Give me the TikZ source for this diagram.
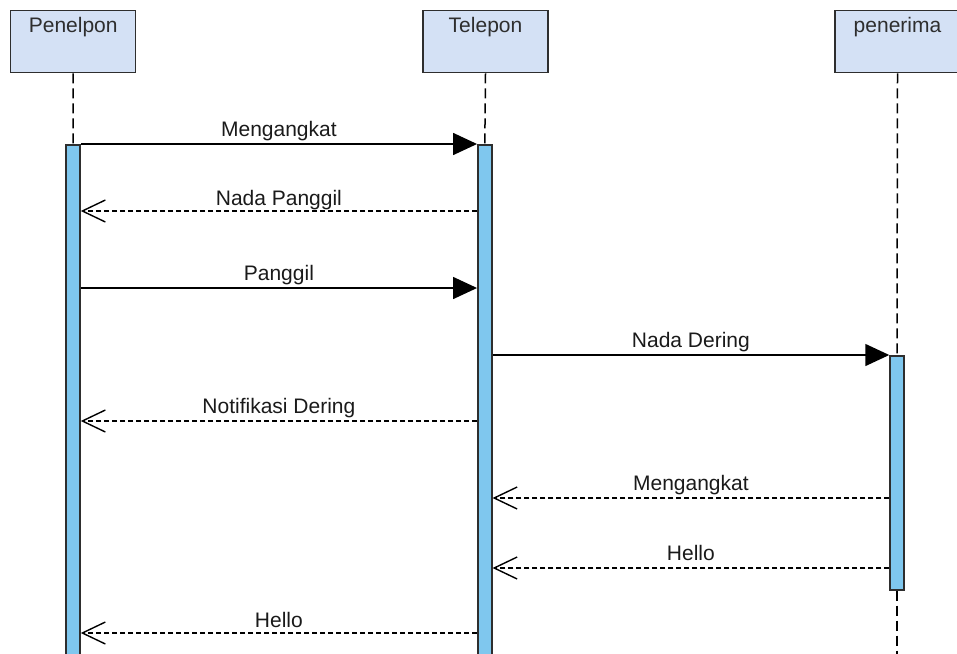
\documentclass[tikz,border=0pt]{standalone}
\usepackage{fontspec}
\setmainfont{Liberation Sans}
\usetikzlibrary{arrows.meta}
\definecolor{hdrfill}{HTML}{D4E1F5}
\definecolor{actfill}{HTML}{7FC7EE}
\definecolor{ink}{HTML}{2E2E2E}
\definecolor{txt}{HTML}{1A1A1A}

\begin{document}
\begin{tikzpicture}[x=1pt,y=-1pt,
  hdr/.style={draw=ink, line width=1.5pt, fill=hdrfill, minimum width=125pt,
    minimum height=62pt, inner sep=0pt},
  hdrtext/.style={anchor=base, inner sep=0pt, text=ink, font=\fontsize{21}{25}\selectfont},
  act/.style={draw=ink, line width=1.5pt, fill=actfill, minimum width=14pt,
    inner sep=0pt, anchor=north},
  life/.style={draw=black, line width=1.5pt, dash pattern=on 10pt off 5pt},
  call/.style={draw=black, line width=1.5pt, -{Triangle[length=24pt,width=22pt]}},
  reply/.style={draw=black, line width=1.4pt, dash pattern=on 5pt off 3pt,
    -{Straight Barb[length=23pt,width=22pt,line width=1.4pt]}},
  msgtext/.style={anchor=base, inner sep=0pt, text=txt, font=\fontsize{21}{25}\selectfont},
]
\useasboundingbox (0,0) rectangle (957,653);
\clip (0,0) rectangle (957,653);

% participants
\node[hdr] (penelpon) at (73.2,41.7) {};
\node[hdrtext] (penelponlbl) at (73.2,32) {Penelpon};
\node[hdr] (telepon) at (485.5,41.7) {};
\node[hdrtext] (teleponlbl) at (485.5,32) {Telepon};
\node[hdr] (penerima) at (897.5,41.7) {};
\node[hdrtext] (penerimalbl) at (897.5,32) {penerima};

% activation bars
\node[act, minimum height=520pt] (penact) at (73,144) {};
\node[act, minimum height=520pt] (telact) at (484.8,144) {};
\node[act, minimum height=234pt] (recact) at (897,355) {};

% lifelines
\draw[life] (penelpon.south) -- (penact.north);
\draw[life] (telepon.south) -- (telact.north);
\draw[life] (penerima.south) -- (recact.north);
\draw[life] (recact.south) -- (897,660);

% messages
\draw[call] (penact.north east) -- (telact.north west)
  node[msgtext, midway, yshift=8pt] (m1) {Mengangkat};
\draw[reply] (telact.west |- 0,211) -- (penact.east |- 0,211)
  node[msgtext, midway, yshift=6pt] (m2) {Nada Panggil};
\draw[call] (penact.east |- 0,288) -- (telact.west |- 0,288)
  node[msgtext, midway, yshift=8pt] (m3) {Panggil};
\draw[call] (telact.east |- recact.north) -- (recact.north west)
  node[msgtext, midway, yshift=8pt] (m4) {Nada Dering};
\draw[reply] (telact.west |- 0,421) -- (penact.east |- 0,421)
  node[msgtext, midway, yshift=8pt] (m5) {Notifikasi Dering};
\draw[reply] (recact.west |- 0,498) -- (telact.east |- 0,498)
  node[msgtext, midway, yshift=8pt] (m6) {Mengangkat};
\draw[reply] (recact.west |- 0,568) -- (telact.east |- 0,568)
  node[msgtext, midway, yshift=8pt] (m7) {Hello};
\draw[reply] (telact.west |- 0,633) -- (penact.east |- 0,633)
  node[msgtext, midway, yshift=6pt] (m8) {Hello};
\end{tikzpicture}
\end{document}
